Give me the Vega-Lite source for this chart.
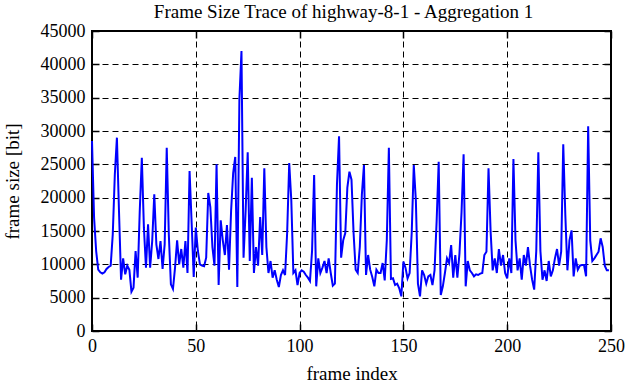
{
  "$schema": "https://vega.github.io/schema/vega-lite/v6.json",
  "width": 519,
  "height": 300,
  "autosize": "none",
  "padding": {"left": 92, "top": 31, "right": 15, "bottom": 51},
  "background": "white",
  "title": {"text": "Frame Size Trace of highway-8-1 - Aggregation 1", "font": "Liberation Serif", "fontSize": 19, "fontWeight": "normal", "color": "black", "offset": 0, "dx": -8},
  "data": {"values": [
{"frame":0,"size":28500},{"frame":1,"size":17000},{"frame":2,"size":12000},{"frame":3,"size":9200},{"frame":4,"size":8800},{"frame":5,"size":8600},{"frame":6,"size":8800},{"frame":7,"size":9300},{"frame":8,"size":9600},{"frame":9,"size":9800},
{"frame":10,"size":14500},{"frame":11,"size":23500},{"frame":12,"size":29000},{"frame":13,"size":18000},{"frame":14,"size":7700},{"frame":15,"size":10900},{"frame":16,"size":8500},{"frame":17,"size":9800},{"frame":18,"size":9200},{"frame":19,"size":5900},
{"frame":20,"size":6500},{"frame":21,"size":12000},{"frame":22,"size":8000},{"frame":23,"size":18000},{"frame":24,"size":26000},{"frame":25,"size":15500},{"frame":26,"size":9500},{"frame":27,"size":16000},{"frame":28,"size":9500},{"frame":29,"size":13500},
{"frame":30,"size":20500},{"frame":31,"size":13000},{"frame":32,"size":10800},{"frame":33,"size":13500},{"frame":34,"size":9300},{"frame":35,"size":13000},{"frame":36,"size":27500},{"frame":37,"size":14500},{"frame":38,"size":7000},{"frame":39,"size":6300},
{"frame":40,"size":9500},{"frame":41,"size":13600},{"frame":42,"size":10000},{"frame":43,"size":12300},{"frame":44,"size":9500},{"frame":45,"size":13500},{"frame":46,"size":8700},{"frame":47,"size":24000},{"frame":48,"size":16200},{"frame":49,"size":8100},
{"frame":50,"size":15500},{"frame":51,"size":12000},{"frame":52,"size":10000},{"frame":53,"size":9800},{"frame":54,"size":9700},{"frame":55,"size":11000},{"frame":56,"size":20700},{"frame":57,"size":18600},{"frame":58,"size":12600},{"frame":59,"size":9800},
{"frame":60,"size":25000},{"frame":61,"size":6900},{"frame":62,"size":16600},{"frame":63,"size":13600},{"frame":64,"size":11400},{"frame":65,"size":15900},{"frame":66,"size":9200},{"frame":67,"size":18000},{"frame":68,"size":23700},{"frame":69,"size":26100},
{"frame":70,"size":6600},{"frame":71,"size":34800},{"frame":72,"size":42000},{"frame":73,"size":11000},{"frame":74,"size":18000},{"frame":75,"size":26800},{"frame":76,"size":10500},{"frame":77,"size":23000},{"frame":78,"size":8700},{"frame":79,"size":12600},
{"frame":80,"size":9800},{"frame":81,"size":17100},{"frame":82,"size":11400},{"frame":83,"size":24400},{"frame":84,"size":12600},{"frame":85,"size":8700},{"frame":86,"size":10500},{"frame":87,"size":8000},{"frame":88,"size":9100},{"frame":89,"size":7700},
{"frame":90,"size":6600},{"frame":91,"size":8400},{"frame":92,"size":9100},{"frame":93,"size":8400},{"frame":94,"size":14700},{"frame":95,"size":25200},{"frame":96,"size":19600},{"frame":97,"size":8700},{"frame":98,"size":9100},{"frame":99,"size":6900},
{"frame":100,"size":8700},{"frame":101,"size":9100},{"frame":102,"size":8900},{"frame":103,"size":8400},{"frame":104,"size":8000},{"frame":105,"size":7500},{"frame":106,"size":12000},{"frame":107,"size":23400},{"frame":108,"size":6700},{"frame":109,"size":10900},
{"frame":110,"size":8700},{"frame":111,"size":9500},{"frame":112,"size":10500},{"frame":113,"size":8700},{"frame":114,"size":10900},{"frame":115,"size":8700},{"frame":116,"size":6800},{"frame":117,"size":7100},{"frame":118,"size":22000},{"frame":119,"size":29200},
{"frame":120,"size":11000},{"frame":121,"size":13600},{"frame":122,"size":14700},{"frame":123,"size":21500},{"frame":124,"size":23900},{"frame":125,"size":22700},{"frame":126,"size":14700},{"frame":127,"size":9200},{"frame":128,"size":8700},{"frame":129,"size":12600},
{"frame":130,"size":20500},{"frame":131,"size":24900},{"frame":132,"size":8400},{"frame":133,"size":11400},{"frame":134,"size":9200},{"frame":135,"size":8100},{"frame":136,"size":6700},{"frame":137,"size":9200},{"frame":138,"size":8700},{"frame":139,"size":8700},
{"frame":140,"size":10200},{"frame":141,"size":7600},{"frame":142,"size":13600},{"frame":143,"size":27500},{"frame":144,"size":7800},{"frame":145,"size":7900},{"frame":146,"size":6900},{"frame":147,"size":7100},{"frame":148,"size":6400},{"frame":149,"size":5200},
{"frame":150,"size":10400},{"frame":151,"size":9500},{"frame":152,"size":7900},{"frame":153,"size":8700},{"frame":154,"size":14700},{"frame":155,"size":24900},{"frame":156,"size":19600},{"frame":157,"size":7100},{"frame":158,"size":5200},{"frame":159,"size":9100},
{"frame":160,"size":8400},{"frame":161,"size":7100},{"frame":162,"size":8200},{"frame":163,"size":8400},{"frame":164,"size":6900},{"frame":165,"size":9100},{"frame":166,"size":16400},{"frame":167,"size":25400},{"frame":168,"size":5400},{"frame":169,"size":6700},
{"frame":170,"size":8700},{"frame":171,"size":10900},{"frame":172,"size":10200},{"frame":173,"size":12900},{"frame":174,"size":8000},{"frame":175,"size":11400},{"frame":176,"size":8000},{"frame":177,"size":11600},{"frame":178,"size":17800},{"frame":179,"size":26500},
{"frame":180,"size":6700},{"frame":181,"size":10500},{"frame":182,"size":9100},{"frame":183,"size":8700},{"frame":184,"size":8200},{"frame":185,"size":8500},{"frame":186,"size":8400},{"frame":187,"size":8600},{"frame":188,"size":8700},{"frame":189,"size":11400},
{"frame":190,"size":11900},{"frame":191,"size":24400},{"frame":192,"size":15000},{"frame":193,"size":9100},{"frame":194,"size":10900},{"frame":195,"size":8700},{"frame":196,"size":12300},{"frame":197,"size":9800},{"frame":198,"size":11400},{"frame":199,"size":8700},
{"frame":200,"size":7900},{"frame":201,"size":10900},{"frame":202,"size":8700},{"frame":203,"size":25800},{"frame":204,"size":13600},{"frame":205,"size":9100},{"frame":206,"size":10900},{"frame":207,"size":7700},{"frame":208,"size":11400},{"frame":209,"size":9800},
{"frame":210,"size":12600},{"frame":211,"size":9800},{"frame":212,"size":7700},{"frame":213,"size":6200},{"frame":214,"size":12000},{"frame":215,"size":26800},{"frame":216,"size":12000},{"frame":217,"size":7700},{"frame":218,"size":9100},{"frame":219,"size":7500},
{"frame":220,"size":10500},{"frame":221,"size":8200},{"frame":222,"size":9100},{"frame":223,"size":10900},{"frame":224,"size":12300},{"frame":225,"size":9800},{"frame":226,"size":11900},{"frame":227,"size":28000},{"frame":228,"size":17400},{"frame":229,"size":9100},
{"frame":230,"size":13600},{"frame":231,"size":15100},{"frame":232,"size":8200},{"frame":233,"size":10900},{"frame":234,"size":9200},{"frame":235,"size":9800},{"frame":236,"size":9900},{"frame":237,"size":9900},{"frame":238,"size":8200},{"frame":239,"size":30700},
{"frame":240,"size":13600},{"frame":241,"size":10500},{"frame":242,"size":10900},{"frame":243,"size":11400},{"frame":244,"size":11900},{"frame":245,"size":13900},{"frame":246,"size":12600},{"frame":247,"size":9800},{"frame":248,"size":9100},{"frame":249,"size":9100}
  ]},
  "layer": [
    {
      "mark": {"type": "line", "color": "#0000ff", "strokeWidth": 2, "strokeJoin": "miter"},
      "encoding": {
        "x": {"field": "frame", "type": "quantitative", "scale": {"domain": [0, 250], "nice": false, "zero": false},
              "axis": {"orient": "bottom", "values": [0, 50, 100, 150, 200, 250], "title": "frame index", "grid": true, "labelFlush": false, "labelPadding": 13, "titlePadding": 9}},
        "y": {"field": "size", "type": "quantitative", "scale": {"domain": [0, 45000], "nice": false},
              "axis": {"orient": "left", "values": [0,5000,10000,15000,20000,25000,30000,35000,40000,45000], "format": "d", "title": "frame size [bit]", "grid": true, "labelFlush": false, "labelPadding": 14, "titlePadding": 18}}
      }
    },
    {
      "mark": {"type": "line", "strokeOpacity": 0},
      "encoding": {
        "x": {"field": "frame", "type": "quantitative", "axis": {"orient": "top", "values": [0, 50, 100, 150, 200, 250], "labels": false, "title": null, "grid": false}},
        "y": {"field": "size", "type": "quantitative", "axis": {"orient": "right", "values": [0,5000,10000,15000,20000,25000,30000,35000,40000,45000], "labels": false, "title": null, "grid": false}}
      }
    }
  ],
  "resolve": {"axis": {"x": "independent", "y": "independent"}},
  "config": {
    "font": "Liberation Serif",
    "view": {"stroke": "black", "strokeWidth": 2},
    "axis": {
      "labelFont": "Liberation Serif", "labelFontSize": 18, "labelColor": "black",
      "titleFont": "Liberation Serif", "titleFontSize": 19, "titleFontWeight": "normal", "titleColor": "black",
      "domain": false, "ticks": true, "tickColor": "black", "tickSize": -7, "tickWidth": 1.5,
      "gridColor": "black", "gridDash": [6, 4], "gridOpacity": 1, "gridWidth": 1
    }
  }
}
